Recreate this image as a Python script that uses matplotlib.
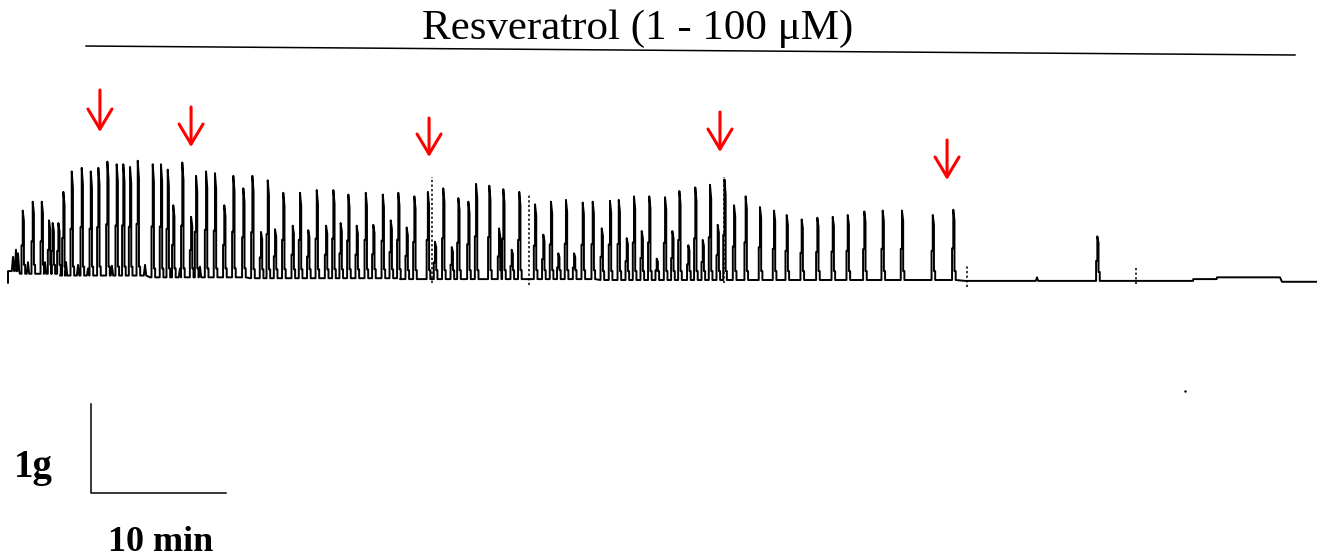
import numpy as np
import matplotlib
matplotlib.use("Agg")
import matplotlib.pyplot as plt

plt.rcParams['font.family'] = ['Liberation Serif', 'DejaVu Serif']

# contraction peaks: time (min) and force (g), baseline ~ 0 g
peak_t = [1.09, 1.83, 2.50, 3.04, 3.31, 3.73, 4.10, 4.72, 5.46, 6.13,
          6.69, 7.36, 8.05, 8.54, 9.04, 9.61, 10.72, 11.33, 11.83, 12.24,
          12.91, 13.56, 13.93, 14.67, 15.33, 16.02, 16.69, 17.43, 18.10, 18.74,
          19.24, 19.78, 20.39, 21.09, 21.63, 22.24, 22.87, 23.56, 24.10, 24.64,
          25.21, 25.83, 26.50, 27.06, 27.76, 28.35, 28.91, 29.53, 30.10, 31.10,
          31.63, 32.24, 32.87, 33.36, 34.10, 34.67, 35.65, 36.37, 36.69, 37.31,
          37.87, 39.04, 39.65, 40.22, 40.76, 41.33, 41.93, 42.57, 43.31, 43.98,
          44.59, 45.24, 45.83, 46.37, 46.94, 47.50, 48.05, 48.67, 49.21, 49.73,
          50.39, 50.91, 51.46, 52.00, 52.57, 53.07, 53.78, 54.64, 55.70, 56.74,
          57.68, 58.79, 59.95, 61.09, 62.20, 63.43, 64.79, 66.22, 68.50, 70.02,
          80.69]
peak_g = [0.78, 0.88, 0.88, 0.67, 0.64, 0.64, 0.99, 1.22, 1.26, 1.22,
          1.26, 1.33, 1.30, 1.30, 1.27, 1.34, 1.30, 1.30, 1.24, 0.84,
          1.32, 0.71, 1.17, 1.22, 1.20, 0.84, 1.17, 1.03, 1.17, 0.54,
          1.12, 0.57, 0.98, 0.61, 0.98, 0.56, 1.01, 0.61, 1.01, 0.64,
          0.96, 0.61, 0.98, 0.62, 0.96, 0.67, 0.98, 0.59, 0.94, 0.99,
          0.43, 1.03, 0.37, 0.92, 0.88, 1.08, 1.06, 0.58, 1.02, 0.34,
          0.99, 0.85, 0.51, 0.88, 0.30, 0.90, 0.30, 0.87, 0.88, 0.58,
          0.89, 0.90, 0.47, 0.94, 0.55, 0.94, 0.24, 0.93, 0.55, 1.00,
          0.39, 1.04, 0.45, 1.07, 0.62, 1.13, 0.84, 0.94, 0.82, 0.78,
          0.73, 0.68, 0.70, 0.71, 0.73, 0.77, 0.78, 0.78, 0.73, 0.79,
          0.49]

# small baseline fluctuations (min, g)
minor_t = [0.37, 0.59, 0.74, 1.48, 2.74, 4.30, 5.19, 5.93, 7.70, 10.15,
           12.74, 14.22, 76.22]
minor_g = [0.26, 0.34, 0.30, 0.20, 0.20, 0.20, 0.17, 0.13, 0.16, 0.17,
           0.13, 0.15, 0.03]

# baseline level (min, g)
base_t = [0.0, 0.89, 3.85, 10.52, 17.93, 29.04, 43.85, 70.89, 86.52,
          87.78, 87.80, 89.53, 89.55, 94.22, 94.37, 96.89]
base_g = [0.10, 0.07, 0.05, 0.03, 0.02, 0.01, 0.0, -0.01, -0.01,
          -0.01, 0.01, 0.01, 0.03, 0.03, -0.02, -0.02]

# event marks on the trace (min, bottom g, top g)
mark_t = [31.39, 38.59, 53.04, 71.04, 83.53]
mark_lo = [-0.03, -0.06, -0.03, -0.08, -0.04]
mark_hi = [1.16, 0.96, 1.16, 0.17, 0.16]

# resveratrol additions (min)
dose_t = [6.81, 13.56, 31.19, 52.74, 69.56]
dose_top = [2.135, 1.944, 1.82, 1.888, 1.573]
dose_tip = [1.663, 1.494, 1.382, 1.438, 1.124]


def base_at(t):
    i = max(np.searchsorted(base_t, t) - 1, 0)
    return base_g[i]


# build the trace
pts = [(0.0, -0.03), (0.0, base_g[0])]
events = [(t, g, 'spike') for t, g in zip(peak_t, peak_g)]
events += [(t, g, 'minor') for t, g in zip(minor_t, minor_g)]
events += [(t, g, 'base') for t, g in zip(base_t, base_g)]
events.sort(key=lambda e: e[0])
dt = 0.09
for t, g, kind in events:
    b = base_at(t)
    if kind == 'base':
        pts.append((t, g))
    elif kind == 'minor':
        pts += [(t - dt, b), (t, g), (t + dt, b)]
    else:
        mid = b + 0.45 * (g - b)
        pts += [(t - dt, b), (t - dt, mid), (t, mid), (t, g),
                (t + dt, 0.85 * g), (t + dt, b + 0.1), (t + 2 * dt, b + 0.1),
                (t + 2 * dt, b)]
tx, ty = zip(*pts)

fig = plt.figure(figsize=(13.25, 5.58), dpi=100)
ax = fig.add_axes([0, 0, 1, 1])
ax.set_xlim(-8 / 13.5, 1317 / 13.5)
ax.set_ylim(-278 / 89, 280 / 89)
ax.axis('off')

ax.plot(tx, ty, color='black', lw=1.4)
for t, lo, hi in zip(mark_t, mark_lo, mark_hi):
    ax.plot([t, t], [lo, hi], color='black', lw=1.1, ls=(0, (1.5, 1.5)))

for t, top, tip in zip(dose_t, dose_top, dose_tip):
    ax.annotate('', xy=(t, tip), xytext=(t, top),
                arrowprops=dict(arrowstyle='->,head_length=0.45,head_width=0.27',
                                color='red', lw=2.2, mutation_scale=32,
                                shrinkA=0, shrinkB=0))

# title bar
ax.plot([5.78, 95.33], [2.629, 2.528], color='black', lw=1.1)
fig.text(0.4815, 0.93, 'Resveratrol (1 - 100 \u03bcM)', fontsize=31,
         ha='center', va='baseline')

# scale bar: 1 g, 10 min
ax.plot([6.15, 6.15, 16.15], [-1.393, -2.393, -2.393], color='black', lw=1.1)
fig.text(0.025, 0.163, '1g', fontsize=28, fontweight='bold',
         ha='center', va='center')
fig.text(0.121, 0.028, '10 min', fontsize=26, fontweight='bold',
         ha='center', va='center')
ax.plot([87.19], [-1.25], marker='.', ms=1.5, color='black')

fig.savefig('out.png', dpi=100)
